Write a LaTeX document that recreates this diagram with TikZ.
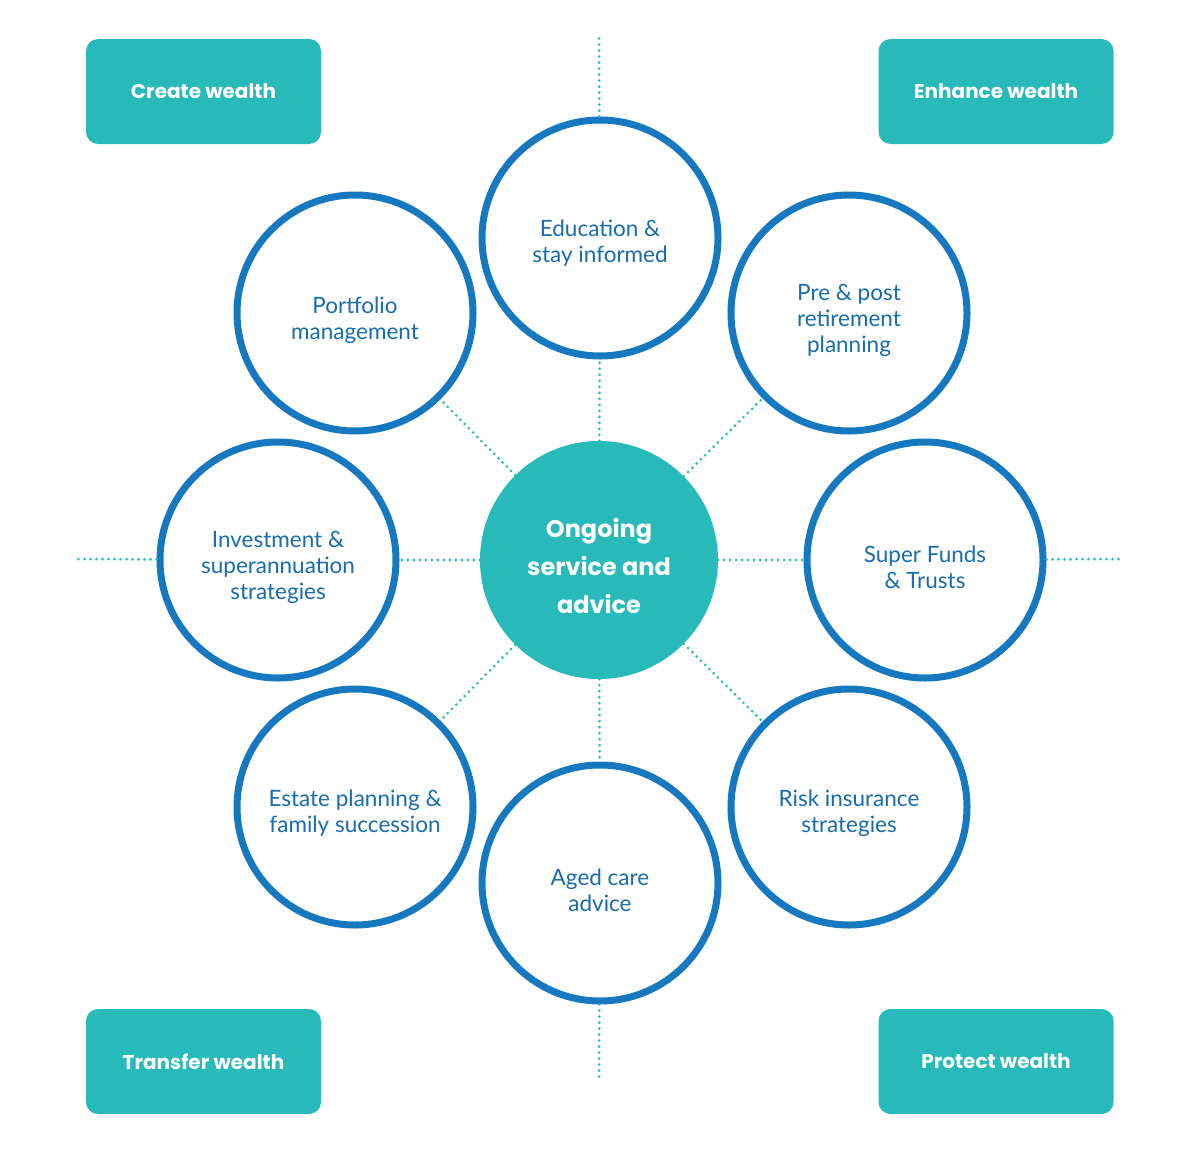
\documentclass[tikz,border=0pt]{standalone}
\usepackage{fontspec}
\setmainfont{Lato}
\newfontfamily\boxfont{Poppins}
\definecolor{teal1}{RGB}{40,185,185}
\definecolor{ringblue}{RGB}{22,120,190}
\definecolor{txtblue}{RGB}{24,108,175}
\begin{document}
\begin{tikzpicture}[x=1pt,y=-1pt,
  ring/.style={circle,draw=ringblue,line width=7pt,fill=white,minimum size=236pt,inner sep=0pt},
  ringtxt/.style={text=txtblue,align=center,inner sep=0pt,font=\fontsize{22.5}{26}\selectfont},
  hub/.style={circle,fill=teal1,minimum size=238pt,inner sep=0pt},
  hubtxt/.style={text=white,align=center,inner sep=0pt,font=\boxfont\bfseries\fontsize{24}{38}\selectfont},
  corner/.style={rectangle,rounded corners=12pt,fill=teal1,minimum width=235pt,minimum height=105pt,
    text=white,font=\boxfont\bfseries\fontsize{20}{22}\selectfont},
  dots/.style={draw=teal1,line width=3pt,line cap=round,dash pattern=on 0pt off 6pt}]
\useasboundingbox (0,0) rectangle (1200,1156);
% corner boxes
\node[corner] (cw) at (203.5,91.5) {Create wealth};
\node[corner] (ew) at (996,91.5) {Enhance wealth};
\node[corner] (tw) at (203.5,1061.5) {Transfer wealth};
\node[corner] (pw) at (996,1061.5) {Protect wealth};
% free ends
\coordinate (topend) at (599,38);
\coordinate (botend) at (599,1080);
\coordinate (leftend) at (76,559);
\coordinate (rightend) at (1122,559);
% hub
\node[hub] (hub) at (599,560) {};
\node[hubtxt] (hubt) at (599,566) {Ongoing\\service and\\advice};
% rings
\node[ring] (edu) at (600,238) {};
\node[ring] (pre) at (849,313) {};
\node[ring] (sup) at (925,560) {};
\node[ring] (risk) at (849,807) {};
\node[ring] (aged) at (600,883) {};
\node[ring] (est) at (355,807) {};
\node[ring] (inv) at (278,560) {};
\node[ring] (port) at (355,313) {};
\node[ringtxt] (edut) at (600,243) {Education \&\\stay informed};
\node[ringtxt] (pret) at (849,320) {Pre \& post\\retirement\\planning};
\node[ringtxt] (supt) at (925,567) {Super Funds\\\& Trusts};
\node[ringtxt] (riskt) at (849,813) {Risk insurance\\strategies};
\node[ringtxt] (agedt) at (600,890) {Aged care\\advice};
\node[ringtxt] (estt) at (355,813) {Estate planning \&\\family succession};
\node[ringtxt] (invt) at (278,567) {Investment \&\\superannuation\\strategies};
\node[ringtxt] (portt) at (355,320) {Portfolio\\management};
% connectors
\foreach \n in {edu,pre,sup,risk,aged,est,inv,port}{
  \path[dots] (hub) -- (\n);
}
\path[dots] (edu) -- (topend);
\path[dots] (aged) -- (botend);
\path[dots] (inv) -- (leftend);
\path[dots] (sup) -- (rightend);
\end{tikzpicture}
\end{document}
